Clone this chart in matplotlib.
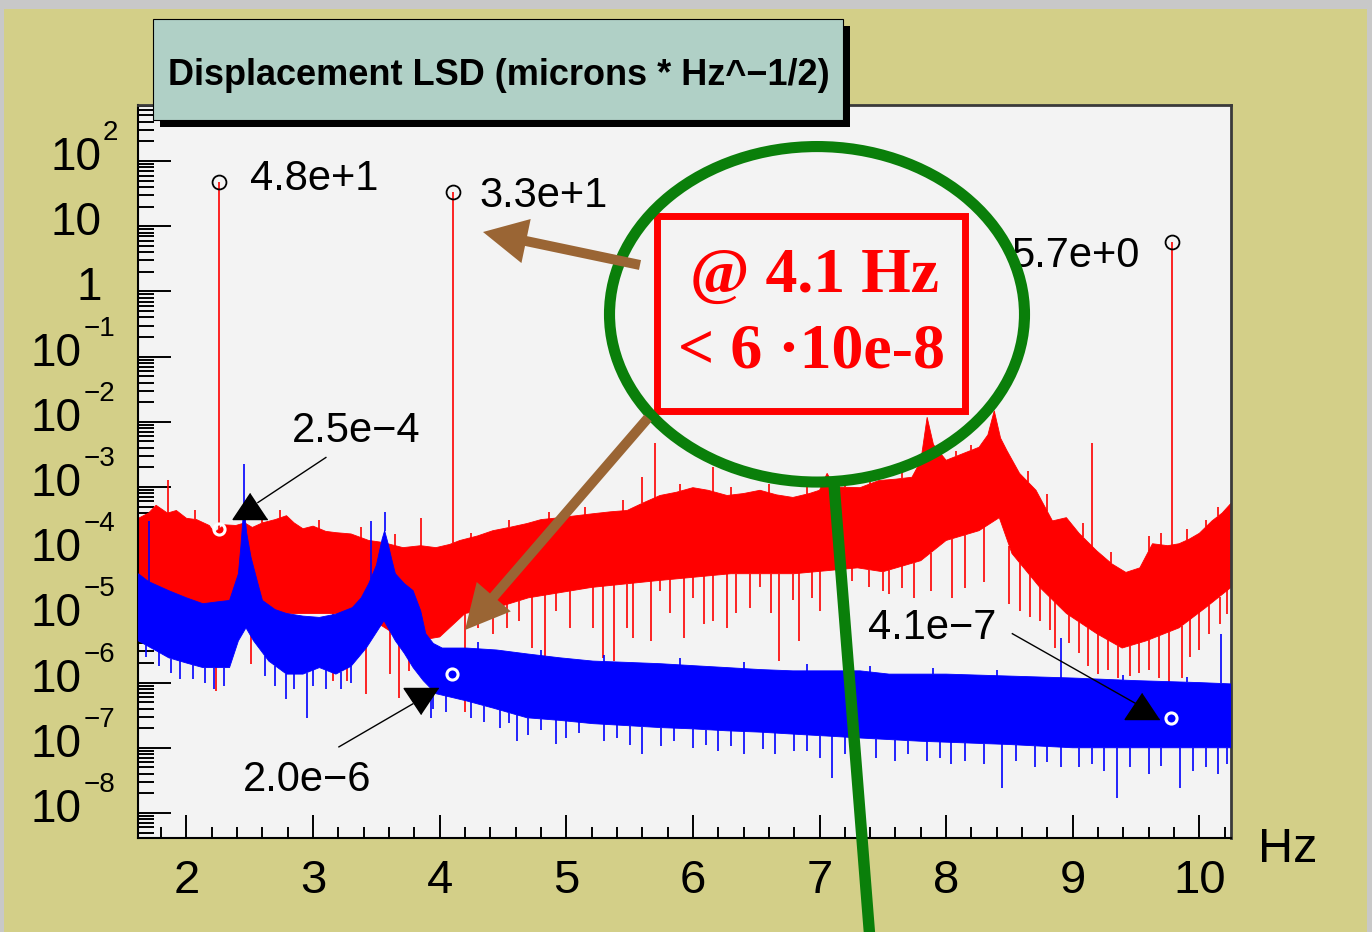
import numpy as np
import matplotlib.pyplot as plt
from matplotlib.patches import Rectangle, Ellipse, FancyArrow
from matplotlib.lines import Line2D
from matplotlib.transforms import Affine2D
from matplotlib.ticker import MultipleLocator, LogLocator, NullFormatter

plt.rcParams['font.family'] = ['Liberation Sans', 'DejaVu Sans']

# ---- spectra (frequency in Hz, log10 of LSD in microns/sqrt(Hz)) ----
red_hi_f = [1.62, 1.70, 1.76, 1.85, 1.92, 2.00, 2.08, 2.18, 2.22, 2.30, 2.39, 2.46, 2.52, 2.60,
            2.70, 2.79, 2.85, 2.92, 3.00, 3.10, 3.18, 3.30, 3.44, 3.55, 3.71, 3.85, 3.97, 4.08,
            4.16, 4.30, 4.42, 4.55, 4.69, 4.80, 4.95, 5.08, 5.21, 5.35, 5.48, 5.60, 5.74, 5.87,
            6.00, 6.12, 6.27, 6.40, 6.53, 6.66, 6.79, 6.92, 7.00, 7.06, 7.12, 7.32, 7.47, 7.60,
            7.73, 7.80, 7.85, 7.90, 8.00, 8.13, 8.26, 8.33, 8.38, 8.43, 8.48, 8.58, 8.71, 8.84,
            8.95, 9.05, 9.19, 9.31, 9.42, 9.53, 9.63, 9.75, 9.84, 9.92, 10.00, 10.10, 10.18, 10.25]
red_hi = [-3.48, -3.40, -3.28, -3.40, -3.36, -3.48, -3.50, -3.59, -3.70, -3.58, -3.59, -3.55, -3.62, -3.55,
          -3.50, -3.44, -3.55, -3.64, -3.60, -3.68, -3.70, -3.72, -3.82, -3.85, -3.93, -3.90, -3.93, -3.88,
          -3.82, -3.75, -3.67, -3.62, -3.56, -3.50, -3.47, -3.44, -3.41, -3.38, -3.36, -3.25, -3.13, -3.08,
          -3.01, -3.05, -3.13, -3.10, -3.05, -3.12, -3.16, -3.10, -3.05, -2.79, -3.00, -3.01, -2.90, -2.88,
          -2.85, -2.60, -1.93, -2.35, -2.59, -2.49, -2.39, -2.20, -1.83, -2.25, -2.44, -2.79, -3.05, -3.52,
          -3.47, -3.71, -3.98, -4.18, -4.31, -4.24, -3.87, -3.90, -3.87, -3.80, -3.71, -3.52, -3.40, -3.25]

# solid lower edge of the red band
red_lo_f = [1.62, 2.00, 2.20, 2.40, 2.60, 2.92, 3.30, 3.44, 3.60, 3.70, 3.85, 4.00, 4.20, 4.45,
            4.70, 5.20, 5.70, 6.30, 6.80, 7.30, 7.50, 7.80, 8.00, 8.26, 8.42, 8.52, 8.74, 8.95,
            9.19, 9.39, 9.58, 9.84, 10.05, 10.25]
red_lo = [-4.74, -4.80, -4.85, -4.90, -4.95, -4.94, -4.94, -5.00, -5.20, -5.30, -5.35, -5.30, -4.94, -4.85,
          -4.70, -4.54, -4.44, -4.33, -4.33, -4.24, -4.30, -4.13, -3.82, -3.67, -3.47, -4.02, -4.54, -4.94,
          -5.25, -5.47, -5.36, -5.16, -4.85, -4.54]

blue_hi_f = [1.62, 1.70, 1.86, 2.00, 2.13, 2.25, 2.34, 2.41, 2.43, 2.454, 2.475, 2.51, 2.56, 2.60,
             2.70, 2.79, 2.92, 3.05, 3.18, 3.31, 3.38, 3.44, 3.50, 3.545, 3.565, 3.59, 3.62, 3.65,
             3.72, 3.79, 3.85, 3.89, 3.95, 4.02, 4.21, 4.45, 4.69, 4.95, 5.21, 5.48, 5.74, 6.00,
             6.27, 6.53, 6.79, 7.06, 7.32, 7.55, 8.00, 8.50, 9.00, 9.50, 10.00, 10.25]
blue_hi = [-4.33, -4.45, -4.59, -4.70, -4.79, -4.76, -4.74, -4.33, -3.90, -3.28, -3.70, -4.08, -4.45, -4.74,
           -4.88, -4.94, -4.98, -5.00, -4.95, -4.85, -4.70, -4.48, -4.20, -3.80, -3.67, -3.85, -4.10, -4.33,
           -4.48, -4.59, -4.90, -5.25, -5.40, -5.47, -5.47, -5.50, -5.56, -5.62, -5.67, -5.69, -5.71, -5.74,
           -5.77, -5.80, -5.82, -5.82, -5.82, -5.87, -5.87, -5.90, -5.93, -5.97, -6.00, -6.02]

blue_lo_f = [1.62, 1.75, 1.86, 2.00, 2.13, 2.34, 2.41, 2.47, 2.53, 2.65, 2.79, 2.92, 3.05, 3.18,
             3.30, 3.42, 3.56, 3.65, 3.72, 3.79, 3.87, 3.97, 4.21, 4.42, 4.69, 4.95, 5.21, 5.48,
             5.74, 6.00, 6.27, 6.53, 6.79, 7.06, 7.32, 7.80, 8.50, 9.00, 10.25]
blue_lo = [-5.36, -5.50, -5.62, -5.70, -5.77, -5.77, -5.36, -5.16, -5.36, -5.67, -5.87, -5.87, -5.77, -5.87,
           -5.75, -5.47, -5.05, -5.36, -5.55, -5.77, -5.97, -6.17, -6.28, -6.39, -6.54, -6.58, -6.63, -6.66,
           -6.69, -6.71, -6.74, -6.76, -6.79, -6.82, -6.85, -6.90, -6.95, -7.00, -7.00]

# single-bin spikes sticking out of the bands
red_up_f = [1.855, 2.07, 2.60, 2.74, 3.05, 3.38, 3.65, 3.85, 4.25, 4.55, 4.86, 5.15, 5.45, 5.60,
            5.70, 5.90, 6.16, 6.30, 6.60, 6.90, 7.20, 7.40, 7.65, 8.08, 8.20, 8.65, 8.80, 9.08,
            9.155, 9.30, 9.60, 9.70, 9.90, 10.05, 10.15]
red_up = [-2.90, -3.35, -3.45, -3.35, -3.50, -3.62, -3.72, -3.47, -3.70, -3.50, -3.38, -3.30, -3.20, -2.85,
          -2.33, -2.95, -2.70, -3.00, -2.95, -2.98, -2.85, -2.80, -2.75, -2.45, -2.35, -2.75, -3.10, -3.55,
          -2.33, -4.00, -3.75, -3.70, -3.65, -3.50, -3.30]
red_dn_f = [2.23, 2.51, 3.16, 3.27, 3.42, 3.61, 3.68, 3.76, 3.85, 4.20, 4.30, 4.42, 4.53, 4.63,
            4.73, 4.83, 4.92, 5.03, 5.14, 5.21, 5.29, 5.38, 5.48, 5.53, 5.67, 5.74, 5.82, 5.93,
            6.00, 6.09, 6.16, 6.27, 6.34, 6.45, 6.53, 6.62, 6.68, 6.79, 6.84, 6.94, 7.00, 7.18,
            7.26, 7.39, 7.50, 7.55, 7.65, 7.75, 7.88, 8.05, 8.15, 8.30, 8.50, 8.58, 8.66, 8.74,
            8.82, 8.86, 8.97, 9.05, 9.12, 9.20, 9.28, 9.36, 9.45, 9.52, 9.60, 9.68, 9.76, 9.86,
            9.93, 10.00, 10.08, 10.16, 10.22]
red_dn = [-6.13, -5.71, -5.97, -5.97, -6.17, -5.87, -6.23, -5.82, -5.67, -6.45, -5.16, -5.25, -5.16, -5.05,
          -5.47, -5.59, -4.90, -5.16, -4.54, -5.16, -5.62, -5.67, -5.16, -5.31, -5.36, -4.60, -4.94, -5.31,
          -4.70, -5.10, -5.05, -5.16, -4.94, -4.85, -4.54, -4.94, -5.67, -4.74, -5.36, -4.70, -4.90, -4.40,
          -4.44, -4.54, -4.59, -4.64, -4.55, -4.70, -4.60, -4.70, -4.55, -4.45, -4.79, -4.90, -5.00, -5.05,
          -5.20, -5.47, -5.40, -5.55, -5.75, -5.87, -5.80, -5.93, -5.90, -5.85, -5.80, -5.93, -6.08, -5.93,
          -5.60, -5.50, -5.25, -5.10, -4.95]
blue_up_f = [1.70, 2.454, 3.456, 3.565, 4.30, 4.80, 5.30, 5.90, 6.40, 6.90, 7.40, 7.90, 8.40, 8.91,
             9.40, 9.90, 10.17]
blue_up = [-3.52, -2.64, -3.52, -3.39, -5.38, -5.50, -5.58, -5.62, -5.68, -5.72, -5.75, -5.78, -5.80, -5.31,
           -5.88, -5.92, -5.25]
blue_dn_f = [1.68, 1.78, 1.88, 1.95, 2.05, 2.15, 2.22, 2.30, 2.62, 2.70, 2.785, 2.85, 2.95, 3.00,
             3.10, 3.22, 3.30, 3.93, 3.95, 4.05, 4.25, 4.35, 4.48, 4.55, 4.61, 4.70, 4.80, 4.92,
             5.00, 5.10, 5.30, 5.40, 5.50, 5.60, 5.75, 5.85, 6.00, 6.10, 6.20, 6.30, 6.40, 6.55,
             6.65, 6.80, 6.90, 7.00, 7.10, 7.20, 7.30, 7.45, 7.60, 7.70, 7.85, 7.95, 8.04, 8.15,
             8.30, 8.44, 8.55, 8.70, 8.80, 8.91, 9.05, 9.15, 9.25, 9.35, 9.45, 9.60, 9.70, 9.85,
             9.95, 10.05, 10.15, 10.22]
blue_dn = [-5.60, -5.75, -5.85, -5.95, -5.95, -6.00, -6.10, -6.05, -5.90, -6.05, -6.25, -6.10, -6.54, -6.05,
           -6.10, -6.10, -6.00, -6.54, -6.40, -6.45, -6.55, -6.60, -6.70, -6.62, -6.90, -6.80, -6.72, -6.94,
           -6.85, -6.78, -6.90, -6.85, -6.95, -7.09, -6.98, -6.90, -7.00, -6.95, -7.05, -6.98, -7.10, -7.02,
           -7.10, -7.05, -7.05, -7.15, -7.46, -7.10, -7.20, -7.15, -7.20, -7.10, -7.20, -7.15, -7.25, -7.20,
           -7.25, -7.62, -7.20, -7.30, -7.22, -7.30, -7.30, -7.25, -7.35, -7.77, -7.30, -7.40, -7.28, -7.62,
           -7.35, -7.30, -7.40, -7.25]

# peak finder results
peak_f = [2.257, 4.103, 9.785]
peak_val = [48.0, 33.0, 5.7]
peak_txt = ['4.8e+1', '3.3e+1', '5.7e+0']
peak_txt_f = [2.50, 4.317, 8.515]
peak_txt_log = [1.72, 1.46, 0.55]
white_f = [2.257, 4.095, 9.776]
white_log = [-3.64, -5.865, -6.54]

tri_up_f = [2.501, 9.549]
tri_up_log = [-3.284, -6.357]
tri_dn_f = [3.851]
tri_dn_log = [-6.280]
mark_txt = ['2.5e\u22124', '2.0e\u22126', '4.1e\u22127']
mark_txt_f = [2.833, 2.446, 7.379]
mark_txt_log = [-2.14, -7.50, -5.16]
lead_f = [(3.101, 2.564), (3.204, 3.788), (8.523, 9.502)]
lead_log = [(-2.547, -3.238), (-6.986, -6.326), (-5.250, -6.326)]

W, H = 1372, 932
fig = plt.figure(figsize=(W / 100, H / 100), dpi=100, facecolor='#c8c8c8')
px = Affine2D().scale(1 / W, -1 / H).translate(0, 1) + fig.transFigure

fig.add_artist(Rectangle((4, 9), 1363, 930, transform=px, facecolor='#d3cf88',
                         edgecolor='none', zorder=-10))

ax = fig.add_axes([138 / W, 1 - 838 / H, (1231 - 138) / W, (838 - 105) / H])
ax.set_facecolor('#f3f3f3')
ax.set_yscale('log')
ax.set_xlim(1.617, 10.25)
ax.set_ylim(10 ** -8.384, 10 ** 2.86)


def band(ax, fh, hi, fl, lo, color, z):
    xs = np.r_[fh, fl[::-1]]
    ys = 10.0 ** np.r_[hi, lo[::-1]]
    ax.fill(xs, ys, color=color, lw=0.6, zorder=z)


def spikes(ax, f, tip, ref_f, ref, color, z):
    base = np.interp(f, ref_f, ref)
    ax.vlines(f, 10.0 ** np.array(base), 10.0 ** np.array(tip), color=color, lw=1.2, zorder=z)


band(ax, red_hi_f, red_hi, red_lo_f, red_lo, '#ff0000', 2)
spikes(ax, red_up_f, red_up, red_hi_f, red_hi, '#ff0000', 2)
spikes(ax, red_dn_f, red_dn, red_lo_f, red_lo, '#ff0000', 2)
spikes(ax, peak_f, np.log10(peak_val), red_hi_f, red_hi, '#ff0000', 2)

band(ax, blue_hi_f, blue_hi, blue_lo_f, blue_lo, '#0000ff', 3)
spikes(ax, blue_up_f, blue_up, blue_hi_f, blue_hi, '#0000ff', 3)
spikes(ax, blue_dn_f, blue_dn, blue_lo_f, blue_lo, '#0000ff', 3)

ax.plot(peak_f, peak_val, 'o', ms=10, mfc='none', mec='black', mew=1.3, zorder=5)
ax.plot(white_f, 10.0 ** np.array(white_log), 'o', ms=8, mfc='none', mec='white', mew=2.2, zorder=5)

tri_up = [(0, 0.75), (-1, -0.75), (1, -0.75)]
tri_dn = [(0, -0.75), (-1, 0.75), (1, 0.75)]
ax.plot(tri_up_f, 10.0 ** np.array(tri_up_log), ls='none', marker=tri_up, ms=25, color='black', zorder=6)
ax.plot(tri_dn_f, 10.0 ** np.array(tri_dn_log), ls='none', marker=tri_dn, ms=25, color='black', zorder=6)

for s, f, l in zip(peak_txt, peak_txt_f, peak_txt_log):
    ax.text(f, 10 ** l, s, fontsize=30, ha='left', va='center', zorder=6)
for s, f, l in zip(mark_txt, mark_txt_f, mark_txt_log):
    ax.text(f, 10 ** l, s, fontsize=30, ha='left', va='center', zorder=6)
for fs, ls in zip(lead_f, lead_log):
    ax.plot(fs, [10 ** ls[0], 10 ** ls[1]], color='black', lw=1.0, zorder=6)

# ROOT-like axes
for side in ['left', 'bottom']:
    ax.spines[side].set_linewidth(1.5)
    ax.spines[side].set_color('black')
for side in ['top', 'right']:
    ax.spines[side].set_linewidth(2.0)
    ax.spines[side].set_color('#3a3a3a')

ax.yaxis.set_major_locator(LogLocator(base=10, numticks=20))
ax.yaxis.set_minor_locator(LogLocator(base=10, subs=np.arange(2, 10), numticks=20))
ax.yaxis.set_major_formatter(NullFormatter())
ax.yaxis.set_minor_formatter(NullFormatter())
ax.xaxis.set_major_locator(MultipleLocator(1))
ax.xaxis.set_minor_locator(MultipleLocator(0.2))
ax.tick_params(axis='both', which='both', direction='in', top=False, right=False, width=1.4)
ax.tick_params(axis='y', which='major', length=23.8)
ax.tick_params(axis='y', which='minor', length=11.5)
ax.tick_params(axis='x', which='major', length=16.5, labelsize=34, pad=15)
ax.tick_params(axis='x', which='minor', length=8)

ytr = ax.get_yaxis_transform()
for k in range(-8, 3):
    y = 10.0 ** k
    if k in (0, 1):
        ax.annotate('1' if k == 0 else '10', xy=((102 - 138) / 1093, y), xycoords=ytr,
                    xytext=(0, 3), textcoords='offset pixels', ha='right', va='center',
                    fontsize=33, annotation_clip=False)
        continue
    bx = 102 if k > 0 else 82
    sx = 103 if k > 0 else 84
    ax.annotate('10', xy=((bx - 138) / 1093, y), xycoords=ytr, xytext=(0, 3),
                textcoords='offset pixels', ha='right', va='center', fontsize=33,
                annotation_clip=False)
    ax.annotate(str(k).replace('-', '\u2212'), xy=((sx - 138) / 1093, y), xycoords=ytr,
                xytext=(0, 28), textcoords='offset pixels', ha='left', va='center',
                fontsize=20, annotation_clip=False)

fig.text(1258, 862, 'Hz', transform=px, fontsize=35, ha='left', va='baseline')

# title box with shadow
fig.add_artist(Rectangle((160, 26), 690, 101, transform=px, facecolor='black',
                         edgecolor='none', zorder=3))
fig.add_artist(Rectangle((153, 19), 690, 101, transform=px, facecolor='#b0d0c6',
                         edgecolor='black', lw=0.8, zorder=3))
fig.text(168, 85, 'Displacement LSD (microns * Hz^\u22121/2)', transform=px, fontsize=26,
         weight='bold', ha='left', va='baseline', zorder=4)

# hand-drawn overlays
brown = '#9a6534'
green = '#0a7f0a'
fig.add_artist(Rectangle((656.5, 215.5), 308, 195, transform=px, facecolor='none',
                         edgecolor='#ff0000', lw=5, zorder=7))
fig.text(814, 292, '@ 4.1 Hz', transform=px, family=['Liberation Serif', 'DejaVu Serif'],
         weight='bold', fontsize=46, color='#ff0000', ha='center', va='baseline', zorder=7)
fig.text(812, 368, '< 6 \u00b710e-8', transform=px, family=['Liberation Serif', 'DejaVu Serif'],
         weight='bold', fontsize=46, color='#ff0000', ha='center', va='baseline', zorder=7)
fig.add_artist(Ellipse((817, 314.3), 415, 335.5, transform=px, facecolor='none',
                       edgecolor=green, lw=8, zorder=8))
fig.add_artist(Line2D([834, 870], [484, 940], transform=px, color=green, lw=8.2,
                      solid_capstyle='butt', zorder=8))
fig.add_artist(FancyArrow(640, 265, 483 - 640, 232 - 265, width=10, head_width=45,
                          head_length=44, length_includes_head=True, transform=px,
                          color=brown, lw=0, zorder=9))
fig.add_artist(FancyArrow(648, 418, 465 - 648, 630 - 418, width=10, head_width=45,
                          head_length=44, length_includes_head=True, transform=px,
                          color=brown, lw=0, zorder=9))

fig.savefig('out.png', dpi=100, facecolor=fig.get_facecolor())
